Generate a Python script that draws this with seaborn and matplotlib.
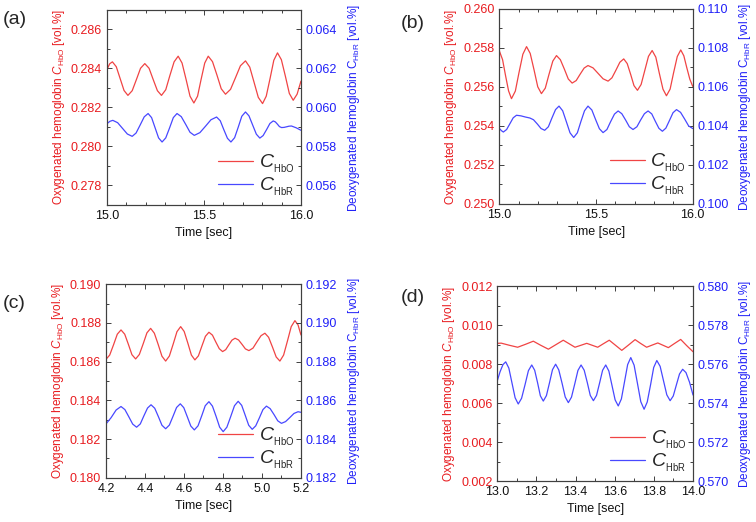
import matplotlib
matplotlib.use("Agg")
import matplotlib.pyplot as plt
from matplotlib.ticker import MultipleLocator, FormatStrFormatter
import seaborn as sns

# ---- datos (tiempo en s, concentracion en vol.%) ----
# (a)
a_t_hbo = [15.000, 15.014, 15.028, 15.048, 15.068, 15.088, 15.108, 15.130, 15.152, 15.173,
           15.195, 15.217, 15.238, 15.260, 15.281, 15.303, 15.324, 15.346, 15.367, 15.387,
           15.408, 15.428, 15.448, 15.467, 15.485, 15.504, 15.522, 15.544, 15.567, 15.589,
           15.611, 15.637, 15.663, 15.688, 15.714, 15.736, 15.758, 15.780, 15.802, 15.821,
           15.841, 15.860, 15.879, 15.899, 15.920, 15.940, 15.960, 15.980, 16.000]
a_hbo = [0.28395, 0.28424, 0.28434, 0.28409, 0.28348, 0.28287, 0.28262, 0.28286, 0.28344, 0.28401,
         0.28425, 0.28401, 0.28344, 0.28286, 0.28262, 0.28291, 0.28363, 0.28434, 0.28463, 0.28428,
         0.28343, 0.28258, 0.28223, 0.28258, 0.28343, 0.28428, 0.28463, 0.28435, 0.28366, 0.28296,
         0.28268, 0.28293, 0.28354, 0.28414, 0.28439, 0.28407, 0.28330, 0.28252, 0.28220, 0.28258,
         0.28350, 0.28442, 0.28480, 0.28445, 0.28359, 0.28272, 0.28237, 0.28268, 0.28335]
a_t_hbr = [15.000, 15.015, 15.030, 15.055, 15.080, 15.105, 15.130, 15.150, 15.171, 15.192,
           15.212, 15.230, 15.248, 15.266, 15.284, 15.303, 15.323, 15.342, 15.361, 15.383,
           15.406, 15.428, 15.450, 15.479, 15.508, 15.536, 15.565, 15.584, 15.602, 15.621,
           15.639, 15.658, 15.677, 15.695, 15.714, 15.732, 15.751, 15.770, 15.788, 15.805,
           15.823, 15.840, 15.857, 15.868, 15.879, 15.889, 15.900, 15.913, 15.926, 15.938,
           15.951, 15.975, 16.000]
a_hbr = [0.05917, 0.05929, 0.05934, 0.05922, 0.05893, 0.05864, 0.05852, 0.05869, 0.05910, 0.05952,
         0.05969, 0.05948, 0.05896, 0.05844, 0.05823, 0.05844, 0.05896, 0.05948, 0.05969, 0.05953,
         0.05913, 0.05873, 0.05857, 0.05871, 0.05904, 0.05937, 0.05951, 0.05932, 0.05887, 0.05842,
         0.05823, 0.05845, 0.05900, 0.05955, 0.05977, 0.05957, 0.05910, 0.05863, 0.05843, 0.05856,
         0.05887, 0.05918, 0.05931, 0.05926, 0.05914, 0.05902, 0.05897, 0.05898, 0.05901, 0.05904,
         0.05905, 0.05896, 0.05883]

# (b)
b_t_hbo = [15.000, 15.016, 15.031, 15.047, 15.062, 15.082, 15.101, 15.121, 15.140, 15.159,
           15.179, 15.198, 15.217, 15.237, 15.256, 15.276, 15.295, 15.315, 15.336, 15.356,
           15.376, 15.397, 15.417, 15.438, 15.458, 15.484, 15.510, 15.536, 15.562, 15.582,
           15.603, 15.623, 15.643, 15.661, 15.679, 15.696, 15.714, 15.733, 15.752, 15.771,
           15.790, 15.809, 15.827, 15.846, 15.864, 15.883, 15.901, 15.920, 15.938, 15.954,
           15.969, 15.985, 16.000]
b_hbo = [0.25783, 0.25740, 0.25660, 0.25580, 0.25540, 0.25579, 0.25674, 0.25768, 0.25807, 0.25772,
         0.25687, 0.25601, 0.25566, 0.25594, 0.25664, 0.25733, 0.25761, 0.25740, 0.25691, 0.25641,
         0.25620, 0.25633, 0.25665, 0.25697, 0.25710, 0.25698, 0.25670, 0.25642, 0.25630, 0.25647,
         0.25687, 0.25727, 0.25744, 0.25720, 0.25664, 0.25607, 0.25583, 0.25613, 0.25685, 0.25757,
         0.25787, 0.25753, 0.25671, 0.25589, 0.25555, 0.25589, 0.25673, 0.25756, 0.25790, 0.25760,
         0.25700, 0.25640, 0.25603]
b_t_hbr = [15.000, 15.010, 15.020, 15.037, 15.054, 15.071, 15.088, 15.111, 15.134, 15.157,
           15.176, 15.196, 15.215, 15.234, 15.253, 15.271, 15.290, 15.308, 15.327, 15.346,
           15.365, 15.384, 15.403, 15.421, 15.440, 15.458, 15.478, 15.497, 15.517, 15.536,
           15.556, 15.575, 15.595, 15.614, 15.633, 15.653, 15.672, 15.691, 15.711, 15.730,
           15.750, 15.769, 15.788, 15.806, 15.825, 15.843, 15.861, 15.880, 15.898, 15.916,
           15.937, 15.958, 15.979, 16.000]
b_hbr = [0.10387, 0.10376, 0.10369, 0.10382, 0.10412, 0.10442, 0.10455, 0.10452, 0.10446, 0.10441,
         0.10432, 0.10410, 0.10387, 0.10378, 0.10396, 0.10440, 0.10484, 0.10502, 0.10478, 0.10422,
         0.10365, 0.10341, 0.10365, 0.10422, 0.10478, 0.10502, 0.10482, 0.10434, 0.10386, 0.10366,
         0.10382, 0.10422, 0.10461, 0.10477, 0.10463, 0.10430, 0.10396, 0.10382, 0.10396, 0.10430,
         0.10463, 0.10477, 0.10462, 0.10425, 0.10388, 0.10373, 0.10389, 0.10429, 0.10468, 0.10484,
         0.10470, 0.10436, 0.10400, 0.10387]

# (c)
c_t_hbo = [4.200, 4.219, 4.239, 4.258, 4.277, 4.296, 4.315, 4.333, 4.352, 4.371,
           4.391, 4.410, 4.429, 4.448, 4.468, 4.487, 4.506, 4.525, 4.545, 4.564,
           4.583, 4.601, 4.620, 4.638, 4.656, 4.674, 4.692, 4.710, 4.728, 4.746,
           4.763, 4.781, 4.798, 4.814, 4.830, 4.846, 4.862, 4.880, 4.898, 4.915,
           4.933, 4.954, 4.974, 4.995, 5.015, 5.034, 5.054, 5.073, 5.092, 5.111,
           5.131, 5.150, 5.169, 5.185, 5.200]
c_hbo = [0.18612, 0.18634, 0.18688, 0.18742, 0.18764, 0.18742, 0.18689, 0.18636, 0.18614, 0.18637,
         0.18693, 0.18749, 0.18772, 0.18747, 0.18688, 0.18628, 0.18603, 0.18629, 0.18692, 0.18755,
         0.18781, 0.18756, 0.18695, 0.18634, 0.18609, 0.18630, 0.18681, 0.18731, 0.18752, 0.18737,
         0.18702, 0.18667, 0.18652, 0.18662, 0.18687, 0.18711, 0.18721, 0.18712, 0.18689, 0.18666,
         0.18657, 0.18670, 0.18702, 0.18734, 0.18747, 0.18726, 0.18675, 0.18624, 0.18603, 0.18634,
         0.18708, 0.18781, 0.18812, 0.18790, 0.18738]
c_t_hbr = [4.200, 4.226, 4.252, 4.277, 4.297, 4.317, 4.337, 4.357, 4.376, 4.394,
           4.413, 4.431, 4.450, 4.469, 4.487, 4.506, 4.525, 4.544, 4.562, 4.581,
           4.599, 4.617, 4.635, 4.653, 4.672, 4.691, 4.709, 4.728, 4.746, 4.765,
           4.783, 4.801, 4.820, 4.840, 4.859, 4.878, 4.896, 4.914, 4.932, 4.950,
           4.968, 4.987, 5.005, 5.023, 5.042, 5.062, 5.081, 5.100, 5.121, 5.143,
           5.164, 5.185, 5.200]
c_hbr = [0.18478, 0.18510, 0.18550, 0.18568, 0.18552, 0.18515, 0.18477, 0.18461, 0.18478, 0.18519,
         0.18560, 0.18577, 0.18559, 0.18515, 0.18471, 0.18453, 0.18472, 0.18518, 0.18563, 0.18582,
         0.18562, 0.18515, 0.18467, 0.18447, 0.18468, 0.18520, 0.18572, 0.18593, 0.18570, 0.18516,
         0.18461, 0.18438, 0.18461, 0.18517, 0.18572, 0.18595, 0.18574, 0.18523, 0.18471, 0.18450,
         0.18468, 0.18510, 0.18552, 0.18570, 0.18557, 0.18526, 0.18494, 0.18481, 0.18490, 0.18511,
         0.18532, 0.18541, 0.18538]

# (d)
d_t_hbo = [13.000, 13.020, 13.062, 13.104, 13.144, 13.184, 13.222, 13.261, 13.299, 13.337,
           13.367, 13.397, 13.427, 13.457, 13.485, 13.513, 13.542, 13.572, 13.604, 13.636,
           13.670, 13.704, 13.733, 13.763, 13.791, 13.820, 13.847, 13.874, 13.905, 13.937,
           13.968, 14.000]
d_hbo = [0.00906, 0.00907, 0.00896, 0.00886, 0.00901, 0.00917, 0.00896, 0.00876, 0.00899, 0.00922,
         0.00904, 0.00886, 0.00896, 0.00906, 0.00896, 0.00886, 0.00904, 0.00922, 0.00896, 0.00870,
         0.00897, 0.00925, 0.00905, 0.00886, 0.00897, 0.00908, 0.00896, 0.00884, 0.00905, 0.00926,
         0.00894, 0.00863]
d_t_hbr = [13.000, 13.014, 13.029, 13.043, 13.059, 13.075, 13.091, 13.107, 13.124, 13.142,
           13.159, 13.176, 13.191, 13.206, 13.220, 13.235, 13.251, 13.267, 13.282, 13.298,
           13.314, 13.331, 13.347, 13.363, 13.379, 13.396, 13.412, 13.428, 13.444, 13.460,
           13.475, 13.491, 13.507, 13.523, 13.538, 13.554, 13.570, 13.586, 13.602, 13.618,
           13.634, 13.650, 13.666, 13.682, 13.699, 13.716, 13.733, 13.750, 13.766, 13.783,
           13.799, 13.815, 13.832, 13.849, 13.866, 13.883, 13.899, 13.915, 13.931, 13.947,
           13.964, 13.982, 14.000]
d_hbr = [0.57514, 0.57560, 0.57597, 0.57611, 0.57579, 0.57503, 0.57427, 0.57395, 0.57424, 0.57495,
         0.57566, 0.57595, 0.57568, 0.57503, 0.57437, 0.57410, 0.57438, 0.57505, 0.57571, 0.57599,
         0.57570, 0.57501, 0.57431, 0.57402, 0.57430, 0.57499, 0.57567, 0.57595, 0.57568, 0.57504,
         0.57439, 0.57412, 0.57439, 0.57504, 0.57568, 0.57595, 0.57564, 0.57490, 0.57416, 0.57385,
         0.57421, 0.57509, 0.57597, 0.57633, 0.57594, 0.57501, 0.57407, 0.57368, 0.57405, 0.57493,
         0.57582, 0.57618, 0.57588, 0.57515, 0.57442, 0.57412, 0.57436, 0.57493, 0.57549, 0.57573,
         0.57556, 0.57507, 0.57441]

etiquetas = ["(a)", "(b)", "(c)", "(d)"]
rango_x = [(15.0, 16.0), (15.0, 16.0), (4.2, 5.2), (13.0, 14.0)]
rango_hbo = [(0.277, 0.287), (0.250, 0.260), (0.180, 0.190), (0.002, 0.012)]
rango_hbr = [(0.055, 0.065), (0.100, 0.110), (0.182, 0.192), (0.570, 0.580)]

series = [
    (a_t_hbo, a_hbo, a_t_hbr, a_hbr),
    (b_t_hbo, b_hbo, b_t_hbr, b_hbr),
    (c_t_hbo, c_hbo, c_t_hbr, c_hbr),
    (d_t_hbo, d_hbo, d_t_hbr, d_hbr),
]

# ---- estilo ----
sns.set_theme(style="ticks")
plt.rcParams["font.family"] = ["Liberation Sans", "DejaVu Sans"]
plt.rcParams["mathtext.fontset"] = "custom"
plt.rcParams["mathtext.rm"] = "Liberation Sans"
plt.rcParams["mathtext.it"] = "Liberation Sans:italic"
plt.rcParams["mathtext.bf"] = "Liberation Sans:bold"

ROJO_TXT = "#e81c20"
ROJO = "#f04444"
AZUL_TXT = "#2020f8"
AZUL = "#4848ff"
MARCO = "#404040"

# posiciones de cada panel en la figura (izq, abajo, ancho, alto)
cajas = [(0.1415, 0.6073, 0.2566, 0.3736),
         (0.6607, 0.6092, 0.2556, 0.3736),
         (0.1402, 0.0849, 0.2579, 0.3705),
         (0.6578, 0.0785, 0.2589, 0.3736)]
pos_etiqueta = [(3, 20), (401, 23), (3, 303), (401, 298)]

fig = plt.figure(figsize=(7.56, 5.22), dpi=100)

for i in range(4):
    t1, y1, t2, y2 = series[i]
    ax = fig.add_axes(cajas[i])
    ax2 = ax.twinx()

    sns.lineplot(x=t1, y=y1, ax=ax, color=ROJO, linewidth=0.9, legend=False)
    sns.lineplot(x=t2, y=y2, ax=ax2, color=AZUL, linewidth=0.9, legend=False)

    ax.set_xlim(*rango_x[i])
    ax.set_ylim(*rango_hbo[i])
    ax2.set_ylim(*rango_hbr[i])

    if i < 2:
        ax.xaxis.set_major_locator(MultipleLocator(0.5))
    else:
        ax.xaxis.set_major_locator(MultipleLocator(0.2))
    ax.xaxis.set_minor_locator(MultipleLocator(0.1))
    ax.xaxis.set_major_formatter(FormatStrFormatter("%.1f"))
    for a in (ax, ax2):
        a.yaxis.set_major_locator(MultipleLocator(0.002))
        a.yaxis.set_minor_locator(MultipleLocator(0.001))
        a.yaxis.set_major_formatter(FormatStrFormatter("%.3f"))
        for s in a.spines.values():
            s.set_color(MARCO)
            s.set_linewidth(0.8)

    ax.tick_params(axis="both", which="both", direction="in", color=MARCO,
                   top=True, right=False, labelsize=9)
    ax.tick_params(which="major", length=3.5, width=0.7)
    ax.tick_params(which="minor", length=2, width=0.7)
    ax.tick_params(axis="y", labelcolor=ROJO_TXT)
    ax.tick_params(axis="x", labelcolor="#111111")
    ax2.tick_params(axis="y", which="both", direction="in", color=MARCO,
                    labelcolor=AZUL_TXT, labelsize=9)
    ax2.tick_params(which="major", length=3.5, width=0.7)
    ax2.tick_params(which="minor", length=2, width=0.7)

    ax.set_xlabel("Time [sec]", fontsize=9, color="#111111")
    ax.set_ylabel(r"Oxygenated hemoglobin $\mathit{C}_{\mathrm{HbO}}$ [vol.%]",
                  fontsize=8.5, color=ROJO_TXT, labelpad=3)
    ax2.set_ylabel(r"Deoxygenated hemoglobin C$_{\mathrm{HbR}}$ [vol.%]",
                   fontsize=8.5, color=AZUL_TXT, labelpad=6)

    lineas = [ax.lines[0], ax2.lines[0]]
    ax2.legend(lineas, [r"$\mathit{C}_{{}_{\mathrm{HbO}}}$", r"$\mathit{C}_{{}_{\mathrm{HbR}}}$"],
               loc="lower right", frameon=False, fontsize=14, handlelength=1.8,
               handletextpad=0.3, labelspacing=0.05, borderaxespad=0.1, borderpad=0.25)

    px, py = pos_etiqueta[i]
    fig.text(px / 756, 1 - py / 522, etiquetas[i], fontsize=14, ha="left", va="center")

fig.savefig("out.png", dpi=100)
